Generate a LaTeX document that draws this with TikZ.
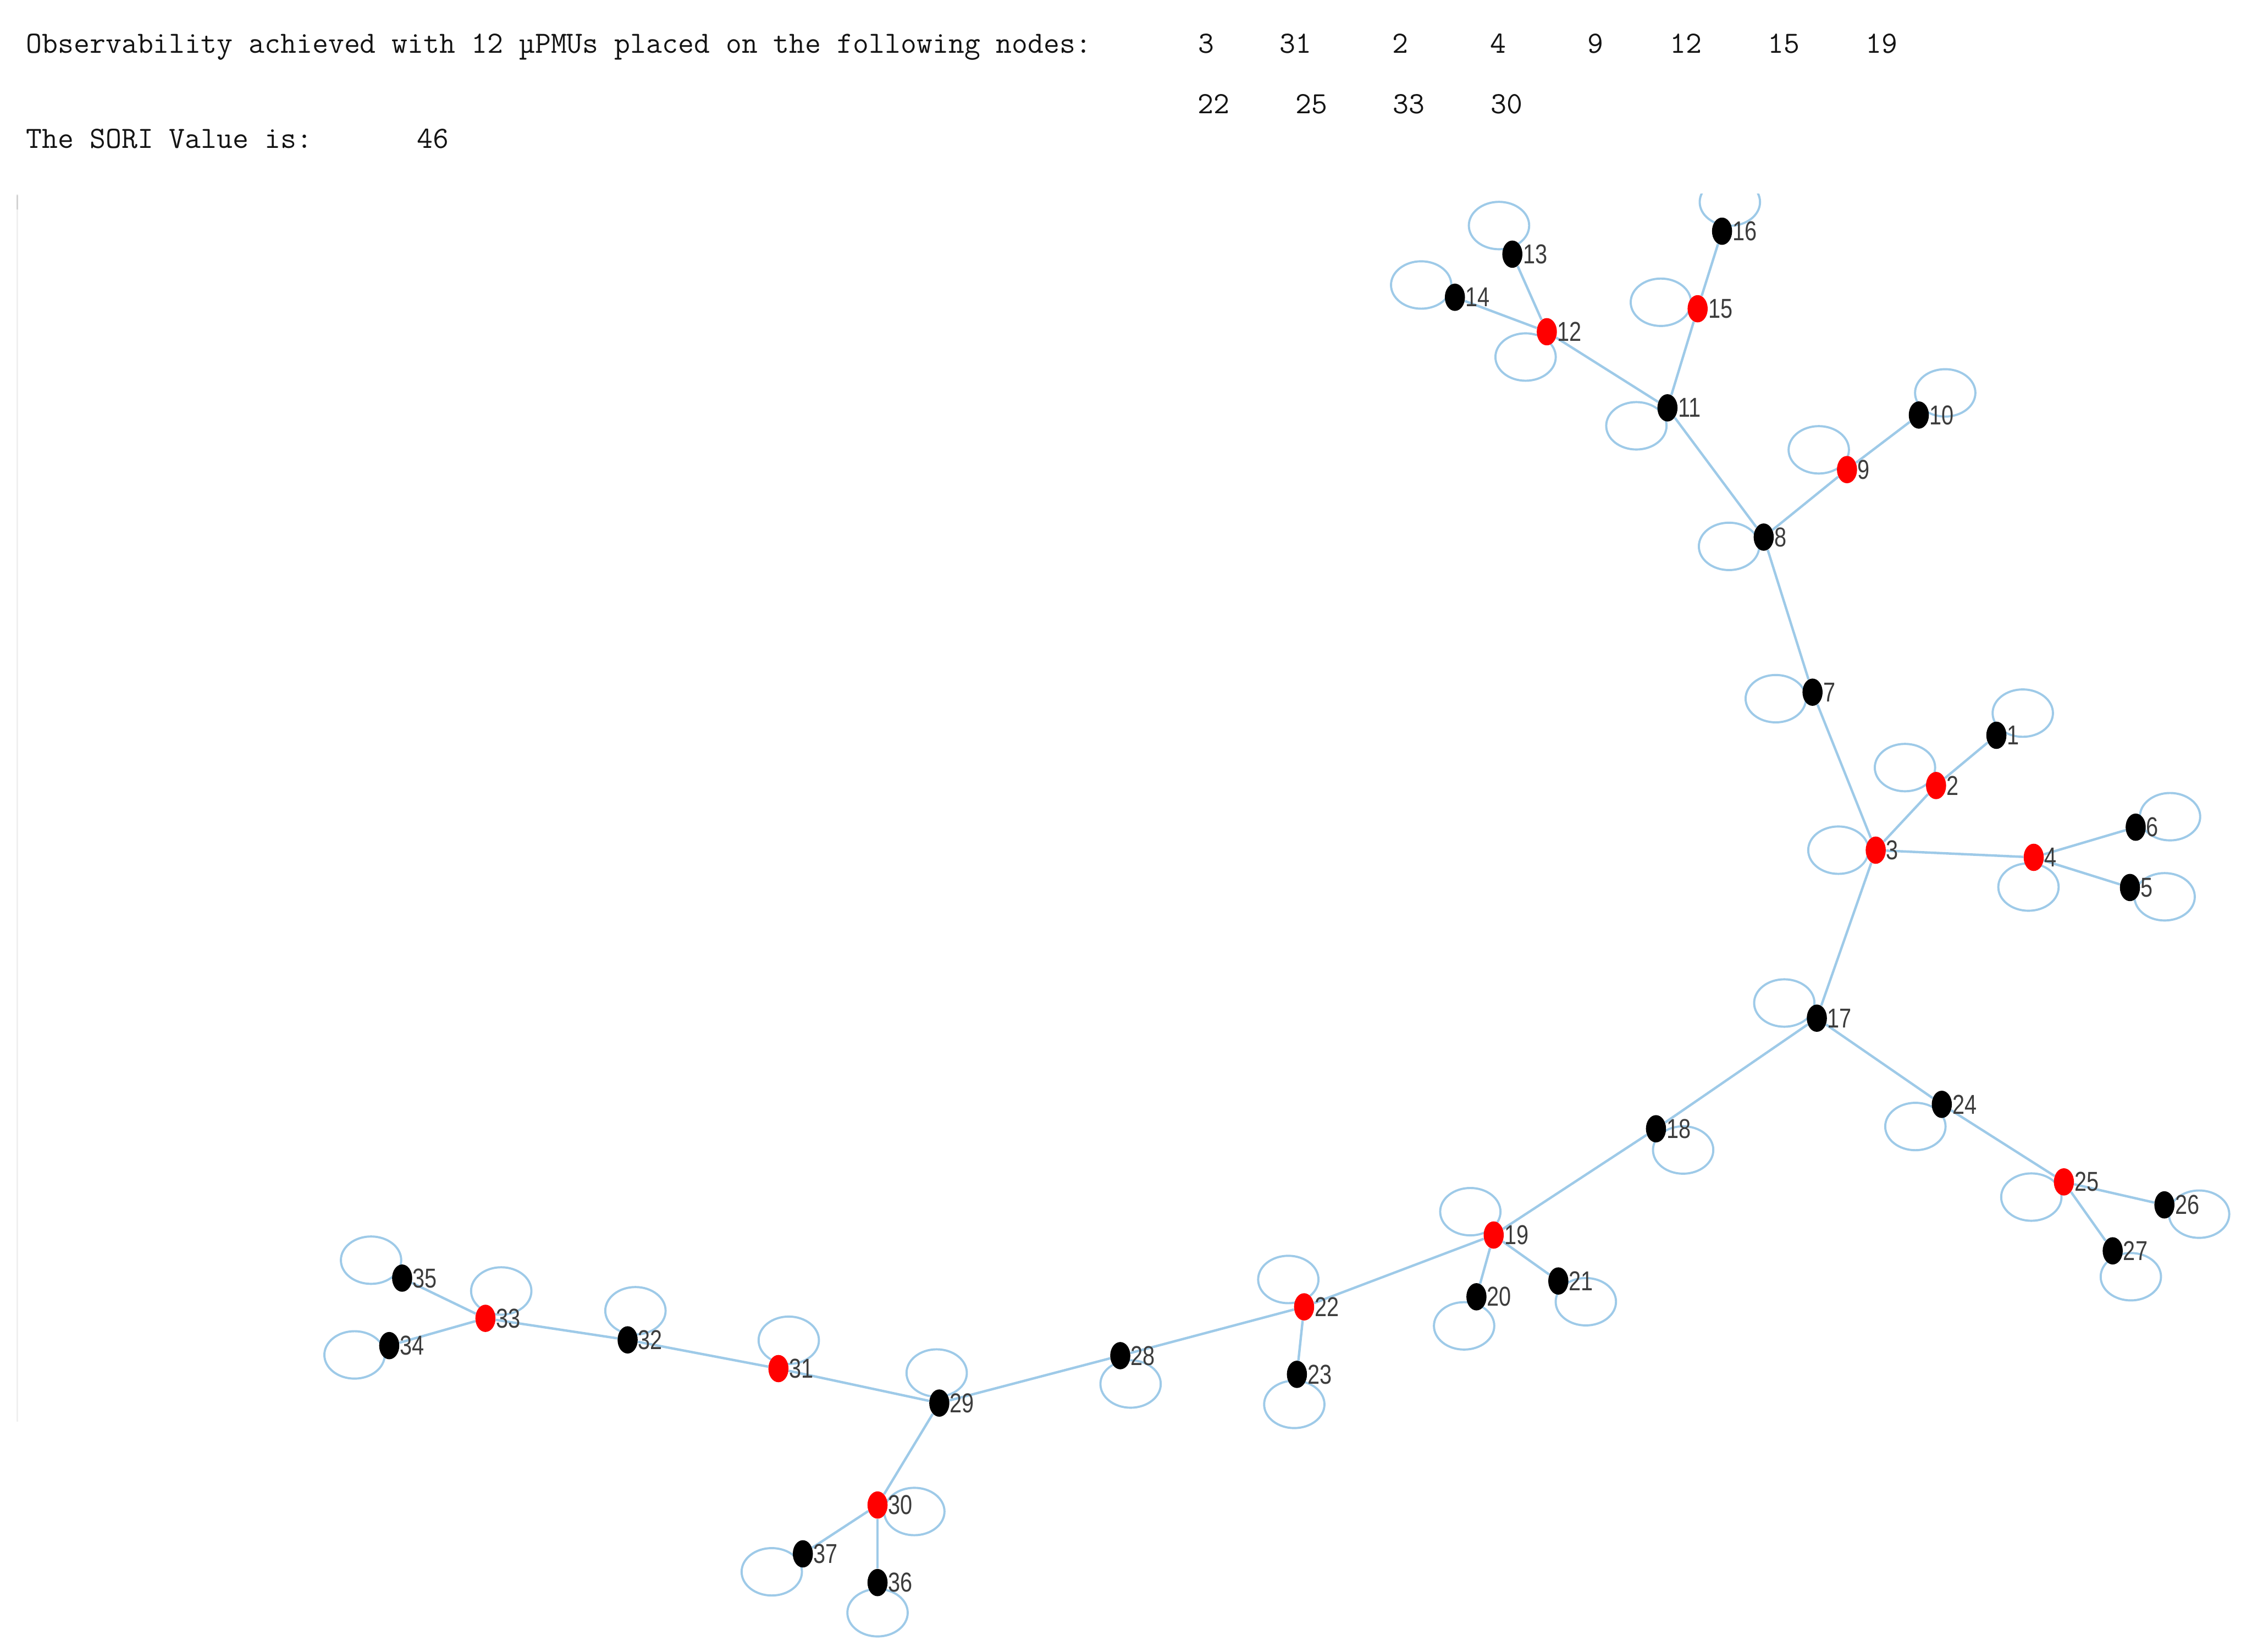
\documentclass[tikz,border=0pt]{standalone}
\usepackage{fontspec}
\setmainfont{Liberation Sans}
\newfontfamily\lblfont[FakeStretch=0.8]{Liberation Sans}
\usetikzlibrary{shapes.geometric, backgrounds}
\definecolor{edgeblue}{RGB}{158,202,232}
\definecolor{txtgray}{RGB}{60,60,60}
\definecolor{headgray}{RGB}{20,20,20}
\tikzstyle{bus} = [
    ellipse,
    fill=black,
    minimum width=14pt,
    minimum height=19pt,
    inner sep=0pt,
    label distance=1pt
]
\tikzstyle{pmu} = [bus, fill=red]
\tikzstyle{lbl} = [
    text=txtgray,
    inner sep=0pt,
    font=\lblfont\fontsize{19}{19}\selectfont
]
\tikzstyle{header} = [
    inner sep=0pt,
    text=headgray,
    font=\ttfamily\fontsize{21.5}{21.5}\selectfont
]
\tikzstyle{line} = [draw=edgeblue, line width=1.7pt]
\tikzstyle{loopline} = [draw=edgeblue, line width=1.5pt, x radius=21, y radius=16.5]

\begin{document}
\begin{tikzpicture}[x=1pt, y=1pt]

\useasboundingbox (0,0) rectangle (1568,-1150);

\node (title) [header, anchor=base west] at (18,-37)
{Observability achieved with 12 µPMUs placed on the following nodes:};
\node (sori) [header, anchor=base west] at (18,-103) {The SORI Value is:};
\node (sorival) [header, anchor=base west] at (290,-103) {46};

\node (pm1) [header, anchor=base] at (840,-37) {3};
\node (pm2) [header, anchor=base] at (902,-37) {31};
\node (pm3) [header, anchor=base] at (975,-37) {2};
\node (pm4) [header, anchor=base] at (1043,-37) {4};
\node (pm5) [header, anchor=base] at (1111,-37) {9};
\node (pm6) [header, anchor=base] at (1174,-37) {12};
\node (pm7) [header, anchor=base] at (1242,-37) {15};
\node (pm8) [header, anchor=base] at (1310,-37) {19};
\node (pm9) [header, anchor=base] at (845,-79) {22};
\node (pm10) [header, anchor=base] at (913,-79) {25};
\node (pm11) [header, anchor=base] at (981,-79) {33};
\node (pm12) [header, anchor=base] at (1049,-79) {30};

\draw [gray!12, line width=1.2pt] (12,-135) -- (12,-990);
\draw [gray!35, line width=1.2pt] (12,-136) -- (12,-146);

\node (n1) [bus, label={[lbl]right:1}] at (1390,-512) {};
\node (n2) [pmu, label={[lbl]right:2}] at (1348,-547) {};
\node (n3) [pmu, label={[lbl]right:3}] at (1306,-592) {};
\node (n4) [pmu, label={[lbl]right:4}] at (1416,-597) {};
\node (n5) [bus, label={[lbl]right:5}] at (1483,-618) {};
\node (n6) [bus, label={[lbl]right:6}] at (1487,-576) {};
\node (n7) [bus, label={[lbl]right:7}] at (1262,-482) {};
\node (n8) [bus, label={[lbl]right:8}] at (1228,-374) {};
\node (n9) [pmu, label={[lbl]right:9}] at (1286,-327) {};
\node (n10) [bus, label={[lbl]right:10}] at (1336,-289) {};
\node (n11) [bus, label={[lbl]right:11}] at (1161,-284) {};
\node (n12) [pmu, label={[lbl]right:12}] at (1077,-231) {};
\node (n13) [bus, label={[lbl]right:13}] at (1053,-177) {};
\node (n14) [bus, label={[lbl]right:14}] at (1013,-207) {};
\node (n15) [pmu, label={[lbl]right:15}] at (1182,-215) {};
\node (n16) [bus, label={[lbl]right:16}] at (1199,-161) {};
\node (n17) [bus, label={[lbl]right:17}] at (1265,-709) {};
\node (n18) [bus, label={[lbl]right:18}] at (1153,-786) {};
\node (n19) [pmu, label={[lbl]right:19}] at (1040,-860) {};
\node (n20) [bus, label={[lbl]right:20}] at (1028,-903) {};
\node (n21) [bus, label={[lbl]right:21}] at (1085,-892) {};
\node (n22) [pmu, label={[lbl]right:22}] at (908,-910) {};
\node (n23) [bus, label={[lbl]right:23}] at (903,-957) {};
\node (n24) [bus, label={[lbl]right:24}] at (1352,-769) {};
\node (n25) [pmu, label={[lbl]right:25}] at (1437,-823) {};
\node (n26) [bus, label={[lbl]right:26}] at (1507,-839) {};
\node (n27) [bus, label={[lbl]right:27}] at (1471,-871) {};
\node (n28) [bus, label={[lbl]right:28}] at (780,-944) {};
\node (n29) [bus, label={[lbl]right:29}] at (654,-977) {};
\node (n30) [pmu, label={[lbl]right:30}] at (611,-1048) {};
\node (n31) [pmu, label={[lbl]right:31}] at (542,-953) {};
\node (n32) [bus, label={[lbl]right:32}] at (437,-933) {};
\node (n33) [pmu, label={[lbl]right:33}] at (338,-918) {};
\node (n34) [bus, label={[lbl]right:34}] at (271,-937) {};
\node (n35) [bus, label={[lbl]right:35}] at (280,-890) {};
\node (n36) [bus, label={[lbl]right:36}] at (611,-1102) {};
\node (n37) [bus, label={[lbl]right:37}] at (559,-1082) {};

\begin{pgfonlayer}{background}
\clip (0,-135) rectangle (1568,-1150);

\draw [line] (n1) -- (n2);
\draw [line] (n2) -- (n3);
\draw [line] (n3) -- (n4);
\draw [line] (n4) -- (n5);
\draw [line] (n4) -- (n6);
\draw [line] (n3) -- (n7);
\draw [line] (n7) -- (n8);
\draw [line] (n8) -- (n9);
\draw [line] (n9) -- (n10);
\draw [line] (n8) -- (n11);
\draw [line] (n11) -- (n12);
\draw [line] (n12) -- (n13);
\draw [line] (n12) -- (n14);
\draw [line] (n11) -- (n15);
\draw [line] (n15) -- (n16);
\draw [line] (n3) -- (n17);
\draw [line] (n17) -- (n18);
\draw [line] (n18) -- (n19);
\draw [line] (n19) -- (n20);
\draw [line] (n19) -- (n21);
\draw [line] (n19) -- (n22);
\draw [line] (n22) -- (n23);
\draw [line] (n17) -- (n24);
\draw [line] (n24) -- (n25);
\draw [line] (n25) -- (n26);
\draw [line] (n25) -- (n27);
\draw [line] (n22) -- (n28);
\draw [line] (n28) -- (n29);
\draw [line] (n29) -- (n30);
\draw [line] (n29) -- (n31);
\draw [line] (n31) -- (n32);
\draw [line] (n32) -- (n33);
\draw [line] (n33) -- (n34);
\draw [line] (n33) -- (n35);
\draw [line] (n30) -- (n36);
\draw [line] (n30) -- (n37);

\draw [loopline] (n1) ++(40:24) ellipse [];
\draw [loopline] (n2) ++(150:25) ellipse [];
\draw [loopline] (n3) ++(180:26) ellipse [];
\draw [loopline] (n4) ++(260:21) ellipse [];
\draw [loopline] (n5) ++(345:25) ellipse [];
\draw [loopline] (n6) ++(17:25) ellipse [];
\draw [loopline] (n7) ++(190:26) ellipse [];
\draw [loopline] (n8) ++(195:25) ellipse [];
\draw [loopline] (n9) ++(145:24) ellipse [];
\draw [loopline] (n10) ++(40:24) ellipse [];
\draw [loopline] (n11) ++(210:25) ellipse [];
\draw [loopline] (n12) ++(230:23) ellipse [];
\draw [loopline] (n13) ++(115:22) ellipse [];
\draw [loopline] (n14) ++(160:25) ellipse [];
\draw [loopline] (n15) ++(170:26) ellipse [];
\draw [loopline] (n16) ++(75:21) ellipse [];
\draw [loopline] (n17) ++(155:25) ellipse [];
\draw [loopline] (n18) ++(322:24) ellipse [];
\draw [loopline] (n19) ++(135:23) ellipse [];
\draw [loopline] (n20) ++(247:22) ellipse [];
\draw [loopline] (n21) ++(323:24) ellipse [];
\draw [loopline] (n22) ++(120:22) ellipse [];
\draw [loopline] (n23) ++(265:21) ellipse [];
\draw [loopline] (n24) ++(220:24) ellipse [];
\draw [loopline] (n25) ++(205:25) ellipse [];
\draw [loopline] (n26) ++(345:25) ellipse [];
\draw [loopline] (n27) ++(305:22) ellipse [];
\draw [loopline] (n28) ++(290:21) ellipse [];
\draw [loopline] (n29) ++(95:21) ellipse [];
\draw [loopline] (n30) ++(350:26) ellipse [];
\draw [loopline] (n31) ++(70:21) ellipse [];
\draw [loopline] (n32) ++(75:21) ellipse [];
\draw [loopline] (n33) ++(60:22) ellipse [];
\draw [loopline] (n34) ++(195:25) ellipse [];
\draw [loopline] (n35) ++(150:25) ellipse [];
\draw [loopline] (n36) ++(270:21) ellipse [];
\draw [loopline] (n37) ++(210:25) ellipse [];
\end{pgfonlayer}

\end{tikzpicture}
\end{document}
